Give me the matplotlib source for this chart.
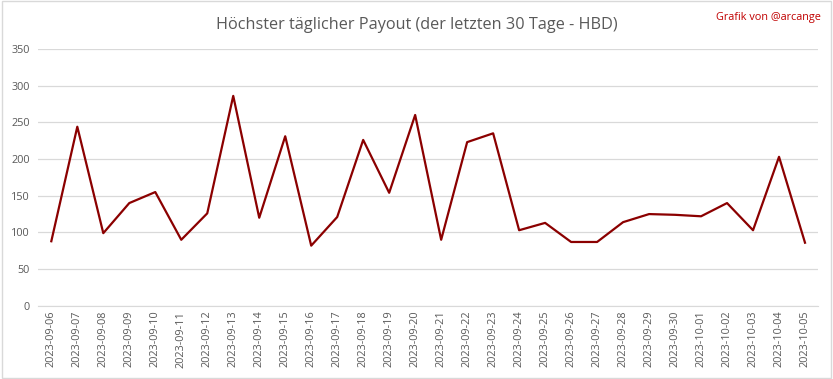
import matplotlib
matplotlib.use('Agg')
import matplotlib.pyplot as plt
from matplotlib.patches import Rectangle

dates = ["2023-09-06", "2023-09-07", "2023-09-08", "2023-09-09", "2023-09-10",
         "2023-09-11", "2023-09-12", "2023-09-13", "2023-09-14", "2023-09-15",
         "2023-09-16", "2023-09-17", "2023-09-18", "2023-09-19", "2023-09-20",
         "2023-09-21", "2023-09-22", "2023-09-23", "2023-09-24", "2023-09-25",
         "2023-09-26", "2023-09-27", "2023-09-28", "2023-09-29", "2023-09-30",
         "2023-10-01", "2023-10-02", "2023-10-03", "2023-10-04", "2023-10-05"]
payout = [88, 244, 99, 140, 155, 90, 126, 286, 120, 231,
          82, 121, 226, 154, 260, 90, 223, 235, 103, 113,
          87, 87, 114, 125, 124, 122, 140, 103, 203, 86]

plt.rcParams['font.family'] = ['Open Sans', 'DejaVu Sans']
grey = '#595959'

fig = plt.figure(figsize=(8.33, 3.79), dpi=100)
ax = fig.add_axes([0.046, 0.193, 0.936, 0.678])

x = range(len(dates))
ax.plot(x, payout, color='#8B0000', linewidth=1.6)
ax.set_xlim(-0.5, len(dates) - 0.5)
ax.set_ylim(0, 350)
ax.set_yticks(range(0, 351, 50))
ax.set_xticks(list(x))
ax.set_xticklabels(dates, rotation=90)
ax.tick_params(axis='both', length=0, colors=grey, labelsize=7.8)
ax.tick_params(axis='y', pad=6)
ax.grid(axis='y', color='#d9d9d9', linewidth=0.9)
ax.set_axisbelow(True)
for s in ['top', 'right', 'left']:
    ax.spines[s].set_visible(False)
ax.spines['bottom'].set_color('#d9d9d9')

fig.text(0.5, 0.935, "Höchster täglicher Payout (der letzten 30 Tage - HBD)",
         ha='center', va='center', fontsize=11.7, color=grey)
fig.text(0.985, 0.955, "Grafik von @arcange", ha='right', va='center',
         fontsize=7.8, color='#C00000')
fig.patches.append(Rectangle((0.002, 0.003), 0.996, 0.994, transform=fig.transFigure,
                             fill=False, edgecolor='#d9d9d9', linewidth=1))

plt.savefig('out.png', dpi=100)
